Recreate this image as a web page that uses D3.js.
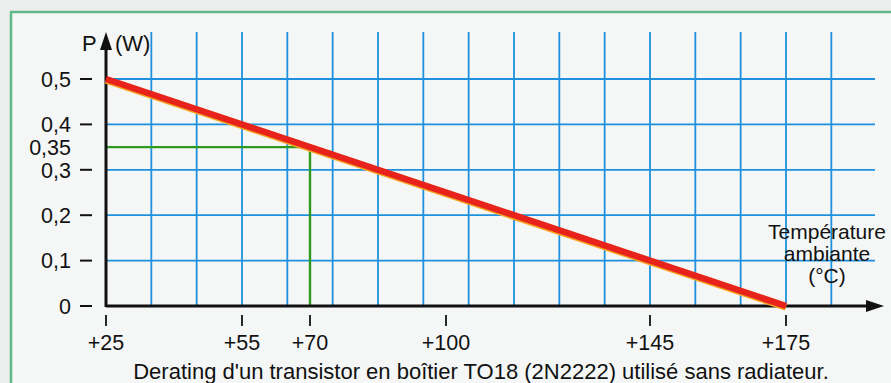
<!DOCTYPE html>
<html>
<head>
<meta charset="utf-8">
<script src="https://cdn.jsdelivr.net/npm/d3@7"></script>
<style>
  body { margin: 0; background: #eceeed; }
  svg { display: block; font-family: "Liberation Sans", Arial, sans-serif; }
</style>
</head>
<body>
<script>
// data
var temps = [25, 175];            // ambient temperature (°C)
var power = [0.5, 0];             // max dissipated power (W)
var markTemp = 70, markPower = 0.35;
var yTicks = [0, 0.1, 0.2, 0.3, 0.4, 0.5];
var yTickLabels = ["0", "0,1", "0,2", "0,3", "0,4", "0,5"];
var xTicks = [25, 55, 70, 100, 145, 175];
var gridTemps = [35, 45, 55, 65, 75, 85, 95, 105, 115, 125, 135, 145, 155, 165, 175, 185];
var caption = "Derating d'un transistor en boîtier TO18 (2N2222) utilisé sans radiateur.";

var W = 891, H = 383;

var svg = d3.select("body").append("svg")
  .attr("width", W)
  .attr("height", H);

// page + green frame
svg.append("rect").attr("width", W).attr("height", H).attr("fill", "#eceeed");
svg.append("rect")
  .attr("x", 11).attr("y", 12).attr("width", W).attr("height", H)
  .attr("fill", "#f5f7f6")
  .attr("stroke", "#5fb88a").attr("stroke-width", 2.5);

var x = d3.scaleLinear().domain([25, 175]).range([106, 786]);
var y = d3.scaleLinear().domain([0, 0.5]).range([306, 79]);

// grid
var grid = svg.append("g").attr("stroke", "#1e90dd").attr("stroke-width", 1.8);
grid.selectAll("line.v").data(gridTemps).enter().append("line")
  .attr("x1", function(d) { return x(d); }).attr("x2", function(d) { return x(d); })
  .attr("y1", 32).attr("y2", y(0));
grid.selectAll("line.h").data(yTicks.slice(1)).enter().append("line")
  .attr("x1", x(25)).attr("x2", 875)
  .attr("y1", function(d) { return y(d); }).attr("y2", function(d) { return y(d); });

// green marker lines
svg.append("path")
  .attr("d", "M" + x(25) + "," + y(markPower) + "H" + x(markTemp) + "V" + y(0))
  .attr("fill", "none").attr("stroke", "#2f9a1e").attr("stroke-width", 2.4);

// axes
svg.append("line").attr("x1", x(25)).attr("x2", 870).attr("y1", y(0)).attr("y2", y(0))
  .attr("stroke", "#111").attr("stroke-width", 2.8);
svg.append("path").attr("d", "M884," + y(0) + "L866," + (y(0) - 6) + "L866," + (y(0) + 6) + "Z")
  .attr("fill", "#111");
svg.append("line").attr("x1", x(25)).attr("x2", x(25)).attr("y1", y(0) + 1).attr("y2", 44)
  .attr("stroke", "#111").attr("stroke-width", 3);
svg.append("path").attr("d", "M" + x(25) + ",32L" + (x(25) - 6) + ",50L" + (x(25) + 6) + ",50Z")
  .attr("fill", "#111");

// y tick labels with dash marks
var yl = svg.append("g").attr("font-size", 21.5).attr("fill", "#111");
yl.selectAll("text.lab").data(yTicks).enter().append("text")
  .attr("x", 71).attr("y", function(d) { return y(d); }).attr("dy", "0.36em")
  .attr("text-anchor", "end")
  .text(function(d, i) { return yTickLabels[i]; });
svg.selectAll("line.ydash").data(yTicks).enter().append("line")
  .attr("x1", 80).attr("x2", 92)
  .attr("y1", function(d) { return y(d); }).attr("y2", function(d) { return y(d); })
  .attr("stroke", "#111").attr("stroke-width", 2);
svg.append("text").attr("x", 71).attr("y", y(markPower)).attr("dy", "0.36em")
  .attr("text-anchor", "end").attr("font-size", 21.5).attr("fill", "#111")
  .text("0,35");

// x ticks + labels
svg.selectAll("line.xt").data(xTicks).enter().append("line")
  .attr("x1", function(d) { return x(d); }).attr("x2", function(d) { return x(d); })
  .attr("y1", 315).attr("y2", 326)
  .attr("stroke", "#111").attr("stroke-width", 1.8);
svg.selectAll("text.xl").data(xTicks).enter().append("text")
  .attr("x", function(d) { return x(d); }).attr("y", 350)
  .attr("text-anchor", "middle").attr("font-size", 21.5).attr("fill", "#111")
  .text(function(d) { return "+" + d; });

// axis titles
svg.append("text").attr("x", 82).attr("y", 51).attr("font-size", 22).attr("fill", "#111").text("P");
svg.append("text").attr("x", 115).attr("y", 51).attr("font-size", 22).attr("fill", "#111").text("(W)");
var tt = svg.append("text").attr("font-size", 21).attr("fill", "#111").attr("text-anchor", "middle");
["Température", "ambiante", "(°C)"].forEach(function(s, i) {
  tt.append("tspan").attr("x", 827).attr("y", 239 + i * 22).text(s);
});

// derating line (orange halo under red)
var line = d3.line()
  .x(function(d) { return x(d[0]); })
  .y(function(d) { return y(d[1]); });
var pts = d3.zip(temps, power);
svg.append("path").attr("d", line(pts)).attr("fill", "none")
  .attr("stroke", "#f6a623").attr("stroke-width", 7.5).attr("transform", "translate(0,1)");
svg.append("path").attr("d", line(pts)).attr("fill", "none")
  .attr("stroke", "#e8231c").attr("stroke-width", 6.5);

// caption
svg.append("text").attr("x", 481).attr("y", 379).attr("text-anchor", "middle")
  .attr("font-size", 22).attr("fill", "#111").text(caption);
</script>
</body>
</html>
